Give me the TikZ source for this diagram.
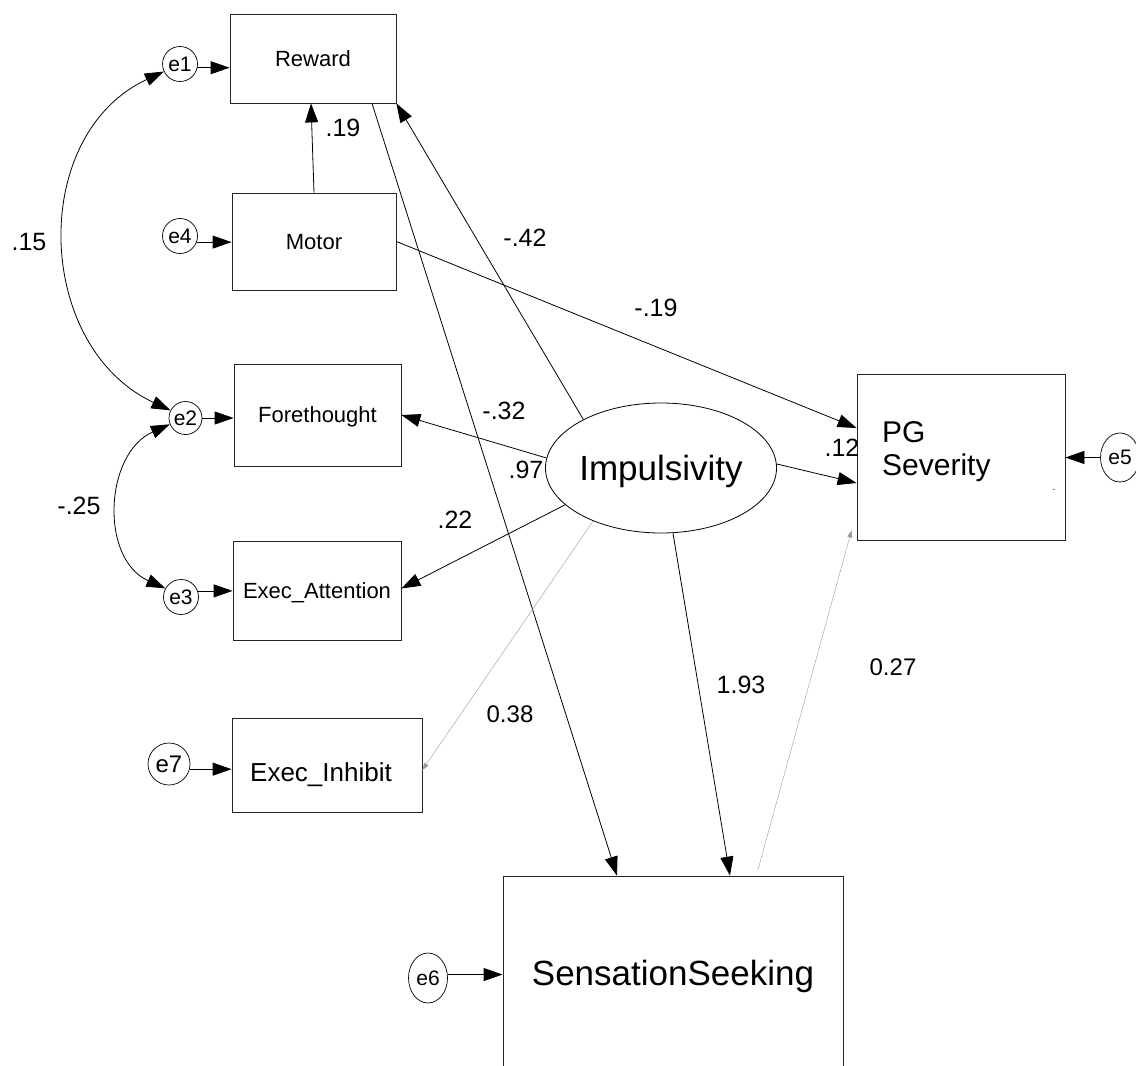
\documentclass[tikz,border=0pt]{standalone}
\usepackage{fontspec}
\setmainfont{Liberation Sans}
\usetikzlibrary{arrows.meta,shapes.geometric,calc}
\newcommand\fsBox{\fontsize{22}{26}\selectfont}
\newcommand\fsErr{\fontsize{21}{24}\selectfont}
\newcommand\fsLab{\fontsize{25}{28}\selectfont}
\newcommand\fsBig{\fontsize{35}{40}\selectfont}
\begin{document}
\begin{tikzpicture}[x=1pt,y=1pt,
  box/.style={draw=black!85, rectangle, inner sep=0pt, line width=0.8pt, font=\fsBox, text depth=0pt},
  err/.style={draw, circle, inner sep=0pt, minimum size=35pt, line width=0.7pt, font=\fsErr},
  erre/.style={draw, ellipse, inner sep=0pt, minimum width=39pt, minimum height=50pt, line width=0.7pt, font=\fsErr},
  arr/.style={-{Triangle[length=19pt,width=13pt]}, line width=0.8pt},
  darr/.style={{Triangle[length=19pt,width=13pt]}-{Triangle[length=19pt,width=13pt]}, line width=0.8pt},
  garr/.style={-{Triangle[length=7pt,width=5pt]}, line width=0.4pt, draw=black!40},
  lab/.style={font=\fsLab, inner sep=0pt, text depth=0pt}]
\useasboundingbox (0,0) rectangle (1136,-1066);
\clip (0,0) rectangle (1136,-1066);

% observed variables
\node[box, minimum width=166pt, minimum height=89pt] (reward) at (313,-58.5) {Reward};
\node[box, minimum width=164pt, minimum height=97pt] (motor) at (314,-241.5) {Motor};
\node[box, minimum width=167pt, minimum height=102pt] (fore) at (317.5,-415) {Forethought};
\node[box, minimum width=168pt, minimum height=99pt] (attn) at (317,-590.5) {Exec\_Attention};
\node[box, minimum width=190pt, minimum height=94pt] (inhib) at (327,-765) {};
\node[font=\fontsize{26}{30}\selectfont, inner sep=0pt, text depth=0pt] (inhibtext) at (321,-772) {Exec\_Inhibit};
\node[box, minimum width=208pt, minimum height=166pt] (pg) at (961,-457) {};
\node[anchor=west, align=left, inner sep=0pt, font=\fontsize{30}{33}\selectfont] (pgtext) at (882,-452) {PG\\Severity};
\node[box, minimum width=340pt, minimum height=194pt, font=\fsBig] (ss) at (673,-973) {SensationSeeking};

% latent
\node[draw, ellipse, minimum width=230pt, minimum height=130pt, inner sep=0pt, line width=0.8pt, font=\fsBig, text depth=0pt] (imp) at (661,-468) {Impulsivity};

% errors
\node[err] (e1) at (180,-64) {e1};
\node[err] (e4) at (180,-236) {e4};
\node[err, minimum size=33pt] (e2) at (185.5,-418) {e2};
\node[err] (e3) at (181,-597) {e3};
\node[err, minimum size=42pt, font=\fontsize{24}{28}\selectfont] (e7) at (169,-764) {e7};
\node[erre] (e6) at (428,-978) {e6};
\node[erre, minimum height=49pt] (e5) at (1120,-457.5) {e5};

% error arrows
\draw[arr] (e1.-12) -- (e1.-12 -| reward.west);
\draw[arr] (e4.-20) -- (e4.-20 -| motor.west);
\draw[arr] (e2.east) -- (e2.east -| fore.west);
\draw[arr] (e3.20) -- (e3.20 -| attn.west);
\draw[arr] (e7.-14) -- (e7.-14 -| inhib.west);
\draw[arr] (e6.10) -- (e6.10 -| ss.west);
\draw[arr] (e5.west) -- (e5.west -| pg.east);

% paths
\draw[arr] (motor.north) -- ([xshift=-2pt]reward.south);
\draw[arr] (imp.148) -- (reward.south east);
\draw[arr] (imp.175) -- (fore.east);
\draw[arr] (imp.201) -- ([yshift=2pt]attn.east);
\draw[arr] (imp.2) -- ([yshift=-26pt]pg.west);
\draw[arr] (motor.east) -- ([yshift=29pt]pg.west);
\draw[arr] ([xshift=59pt]reward.south) -- ([xshift=-56pt]ss.north);
\draw[arr] ([xshift=12pt]imp.south) -- ([xshift=57pt]ss.north);
\draw[garr] (imp.218) -- ([yshift=-5pt]inhib.east);
\draw[garr] ([shift={(85pt,6pt)}]ss.north) -- ([shift={(-5pt,10pt)}]pg.south west);

% covariances
\draw[darr] (e1.205) to[out=205,in=155,looseness=1.13] (e2.153);
\draw[darr] (e2.202) to[out=204,in=156,looseness=1.12] (e3.151);

% labels
\node[lab] (l19) at (343,-128) {.19};
\node[lab] (l15) at (29,-242) {.15};
\node[lab] (l25) at (79,-506) {-.25};
\node[lab] (l42) at (525,-238) {-.42};
\node[lab] (lm19) at (656,-308) {-.19};
\node[lab] (l32) at (504,-411) {-.32};
\node[lab] (l97) at (526,-470) {.97};
\node[lab] (l22) at (455,-520) {.22};
\node[lab] (l12) at (842,-448) {.12};
\node[lab] (l193) at (741,-685) {1.93};
\node[lab, font=\fontsize{24}{28}\selectfont] (l038) at (510,-714) {0.38};
\node[lab, font=\fontsize{24}{28}\selectfont] (l027) at (893,-667) {0.27};
\node[font=\fontsize{10}{10}\selectfont, inner sep=0pt] (pgdot) at (1054,-490) {.};
\end{tikzpicture}
\end{document}
